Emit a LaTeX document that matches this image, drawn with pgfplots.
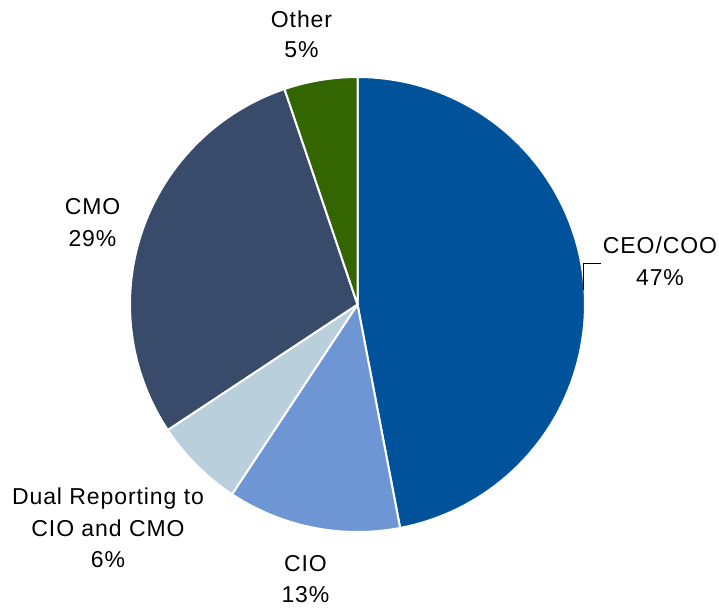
\documentclass[border=0pt]{standalone}
\usepackage{pgfplots}
\pgfplotsset{compat=1.18}
\usepackage{fontspec}
\setmainfont{Liberation Sans}[LetterSpace=4]
\definecolor{ceo}{RGB}{0,82,155}
\definecolor{cio}{RGB}{110,150,212}
\definecolor{dual}{RGB}{186,207,220}
\definecolor{cmo}{RGB}{56,75,106}
\definecolor{oth}{RGB}{51,102,0}
% shares in percent
\def\vA{47.0}% CEO/COO
\def\vB{12.3}% CIO
\def\vC{6.4}%  Dual Reporting
\def\vD{29.1}% CMO
\def\vE{5.2}%  Other
\pgfmathsetmacro{\sA}{90-3.6*\vA}
\pgfmathsetmacro{\sB}{\sA-3.6*\vB}
\pgfmathsetmacro{\sC}{\sB-3.6*\vC}
\pgfmathsetmacro{\sD}{\sC-3.6*\vD}
\pgfmathsetmacro{\sE}{\sD-3.6*\vE}
\newcommand\sector[3]{%
\addplot[fill=#3, draw=white, line width=1pt, line join=round, domain=#1:#2, samples=90, variable=\t]
 ({357.5+227.5*cos(\t)},{302.5+227.5*sin(\t)}) -- (axis cs:357.5,302.5) -- cycle;}
\newcommand\lbl[3]{\node[anchor=base, inner sep=0pt, font=\fontsize{11.5}{13}\selectfont] at (axis cs:#1,#2) {#3};}
\begin{document}
\begin{tikzpicture}
\begin{axis}[scale only axis, width=359.5pt, height=303.5pt,
  xmin=0, xmax=719, ymin=0, ymax=607, hide axis, clip=false]
\path[draw=none] (axis cs:0,0) rectangle (axis cs:719,607);
\sector{\sA}{90}{ceo}
\sector{\sB}{\sA}{cio}
\sector{\sC}{\sB}{dual}
\sector{\sD}{\sC}{cmo}
\sector{\sE}{\sD}{oth}
\draw[black, line width=0.5pt] (axis cs:583,317) -- (axis cs:583,344) -- (axis cs:601,344);
\lbl{660}{354}{CEO/COO}
\lbl{660}{322}{47\%}
\lbl{301.5}{580}{Other}
\lbl{301.5}{550}{5\%}
\lbl{92.5}{393}{CMO}
\lbl{92.5}{361}{29\%}
\lbl{108}{103}{Dual Reporting to}
\lbl{108}{71}{CIO and CMO}
\lbl{108}{40}{6\%}
\lbl{305.5}{36}{CIO}
\lbl{305.5}{5}{13\%}
\end{axis}
\end{tikzpicture}
\end{document}
